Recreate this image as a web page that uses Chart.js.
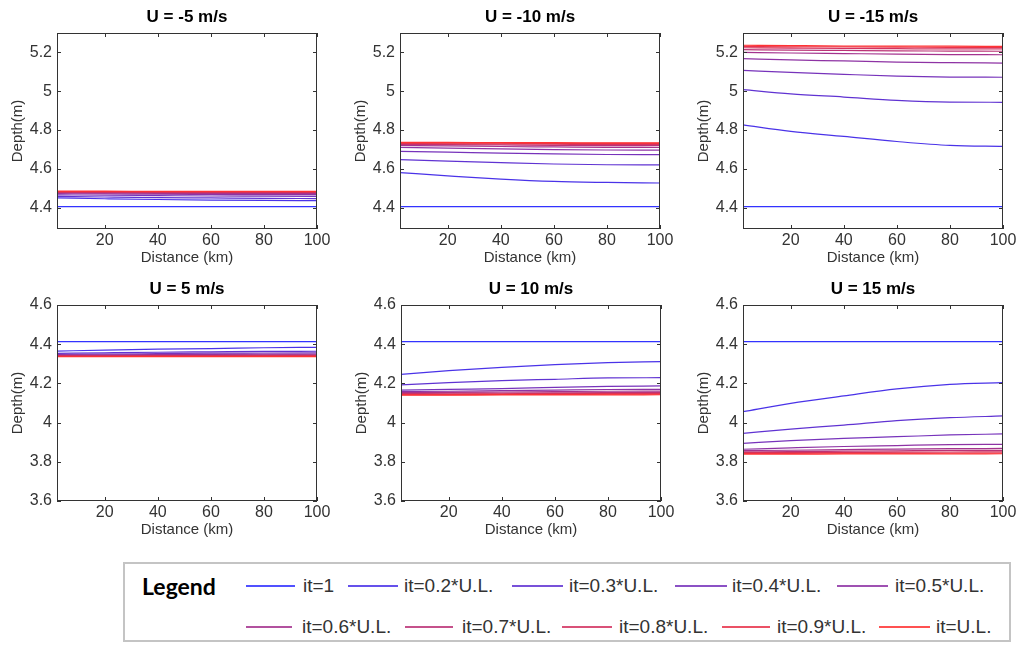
<!DOCTYPE html>
<html>
<head>
<meta charset="utf-8">
<script src="https://cdn.jsdelivr.net/npm/chart.js@4.4.1/dist/chart.umd.min.js"></script>
<style>
  body { margin:0; background:#fff; width:1020px; height:646px; position:relative; overflow:hidden; font-family:"Liberation Sans", Arial, sans-serif; }
  .panel { position:absolute; }
  #legendBox { position:absolute; left:123px; top:562px; width:888px; height:80px; border:2px solid #c4c4c4; box-sizing:border-box; }
  .lg-title { position:absolute; left:142px; top:572px; font:bold 23px Lato, "Open Sans", sans-serif; color:#000; }
  .lg-line { position:absolute; height:2px; }
  .lg-text { position:absolute; font-size:19px; color:#333; line-height:20px; }
</style>
</head>
<body>
<canvas id="c1" class="panel"></canvas>
<canvas id="c2" class="panel"></canvas>
<canvas id="c3" class="panel"></canvas>
<canvas id="c4" class="panel"></canvas>
<canvas id="c5" class="panel"></canvas>
<canvas id="c6" class="panel"></canvas>
<div id="legendBox"></div>
<div class="lg-title">Legend</div>
<div id="legend"></div>
<script>
// x positions along the channel (km)
const distKm = [2, 20, 40, 60, 80, 100];
const xTicks = [20, 40, 60, 80, 100];
const yTicksNeg = [4.4, 4.6, 4.8, 5, 5.2];
const yTicksPos = [3.6, 3.8, 4, 4.2, 4.4, 4.6];

const seriesNames = ['it=1', 'it=0.2*U.L.', 'it=0.3*U.L.', 'it=0.4*U.L.', 'it=0.5*U.L.',
                     'it=0.6*U.L.', 'it=0.7*U.L.', 'it=0.8*U.L.', 'it=0.9*U.L.', 'it=U.L.'];

// depth (m) per iteration, one row per series
const depthUm5 = [
  [4.405, 4.405, 4.405, 4.405, 4.405, 4.405],
  [4.450, 4.446, 4.442, 4.439, 4.437, 4.436],
  [4.458, 4.455, 4.452, 4.450, 4.448, 4.447],
  [4.466, 4.464, 4.462, 4.460, 4.459, 4.458],
  [4.472, 4.471, 4.469, 4.468, 4.467, 4.467],
  [4.476, 4.475, 4.474, 4.474, 4.473, 4.473],
  [4.479, 4.478, 4.478, 4.477, 4.477, 4.477],
  [4.481, 4.481, 4.480, 4.480, 4.480, 4.480],
  [4.483, 4.483, 4.482, 4.482, 4.482, 4.482],
  [4.485, 4.485, 4.484, 4.484, 4.484, 4.484]
];
const depthUm10 = [
  [4.405, 4.405, 4.405, 4.405, 4.405, 4.405],
  [4.581, 4.564, 4.547, 4.535, 4.530, 4.527],
  [4.648, 4.640, 4.632, 4.625, 4.621, 4.620],
  [4.690, 4.686, 4.681, 4.677, 4.674, 4.673],
  [4.710, 4.707, 4.703, 4.699, 4.697, 4.696],
  [4.720, 4.718, 4.715, 4.713, 4.711, 4.710],
  [4.726, 4.725, 4.723, 4.721, 4.720, 4.720],
  [4.730, 4.729, 4.728, 4.727, 4.726, 4.726],
  [4.733, 4.733, 4.732, 4.731, 4.731, 4.731],
  [4.736, 4.736, 4.735, 4.735, 4.734, 4.734]
];
const depthUm15 = [
  [4.405, 4.405, 4.405, 4.405, 4.405, 4.405],
  [4.827, 4.793, 4.767, 4.741, 4.721, 4.716],
  [5.008, 4.986, 4.970, 4.953, 4.944, 4.943],
  [5.107, 5.097, 5.087, 5.078, 5.073, 5.072],
  [5.168, 5.161, 5.156, 5.150, 5.147, 5.145],
  [5.200, 5.197, 5.194, 5.191, 5.189, 5.188],
  [5.214, 5.212, 5.210, 5.208, 5.207, 5.206],
  [5.224, 5.222, 5.220, 5.219, 5.218, 5.218],
  [5.231, 5.229, 5.228, 5.227, 5.226, 5.226],
  [5.237, 5.235, 5.233, 5.232, 5.232, 5.231]
];
const depthU5 = [
  [4.413, 4.413, 4.413, 4.413, 4.413, 4.413],
  [4.365, 4.370, 4.375, 4.377, 4.382, 4.384],
  [4.353, 4.356, 4.359, 4.361, 4.363, 4.364],
  [4.348, 4.350, 4.352, 4.354, 4.355, 4.356],
  [4.345, 4.346, 4.347, 4.348, 4.349, 4.350],
  [4.343, 4.343, 4.344, 4.345, 4.345, 4.346],
  [4.341, 4.341, 4.342, 4.342, 4.343, 4.343],
  [4.339, 4.339, 4.340, 4.340, 4.340, 4.341],
  [4.338, 4.338, 4.338, 4.338, 4.339, 4.339],
  [4.336, 4.336, 4.337, 4.337, 4.337, 4.337]
];
const depthU10 = [
  [4.413, 4.413, 4.413, 4.413, 4.413, 4.413],
  [4.246, 4.265, 4.282, 4.296, 4.306, 4.311],
  [4.192, 4.204, 4.214, 4.221, 4.228, 4.229],
  [4.166, 4.170, 4.173, 4.180, 4.185, 4.187],
  [4.158, 4.160, 4.163, 4.166, 4.169, 4.170],
  [4.153, 4.154, 4.156, 4.158, 4.160, 4.161],
  [4.149, 4.150, 4.151, 4.152, 4.153, 4.154],
  [4.146, 4.146, 4.147, 4.148, 4.148, 4.149],
  [4.143, 4.143, 4.144, 4.144, 4.145, 4.145],
  [4.140, 4.140, 4.141, 4.141, 4.141, 4.142]
];
const depthU15 = [
  [4.413, 4.413, 4.413, 4.413, 4.413, 4.413],
  [4.056, 4.098, 4.136, 4.172, 4.195, 4.204],
  [3.945, 3.967, 3.987, 4.010, 4.025, 4.034],
  [3.894, 3.908, 3.920, 3.928, 3.937, 3.942],
  [3.864, 3.871, 3.878, 3.883, 3.888, 3.889],
  [3.857, 3.859, 3.862, 3.865, 3.867, 3.868],
  [3.851, 3.852, 3.854, 3.856, 3.858, 3.858],
  [3.847, 3.847, 3.848, 3.849, 3.850, 3.851],
  [3.843, 3.843, 3.844, 3.844, 3.845, 3.845],
  [3.839, 3.839, 3.840, 3.840, 3.840, 3.841]
];

// blue -> red ramp, softened a little towards white like the scanned figure
const colors = seriesNames.map((_, i) => {
    const t = i / (seriesNames.length - 1);
    const mix = c => Math.round(c * 0.8 + 255 * 0.2);
    return `rgb(${mix(255 * t)},${mix(0)},${mix(255 * (1 - t))})`;
});

// box + inward ticks + centred title, MATLAB style
const matlabAxes = {
    id: 'matlabAxes',
    afterDatasetsDraw(chart, args, opts) {
        const { ctx, chartArea: a, scales: { x, y } } = chart;
        ctx.save();
        ctx.strokeStyle = '#333';
        ctx.lineWidth = 1;
        ctx.strokeRect(a.left + 0.5, a.top + 0.5, a.width - 1, a.height - 1);
        ctx.beginPath();
        x.ticks.forEach(t => {
            const px = Math.round(x.getPixelForValue(t.value)) + 0.5;
            ctx.moveTo(px, a.bottom); ctx.lineTo(px, a.bottom - 4);
            ctx.moveTo(px, a.top); ctx.lineTo(px, a.top + 4);
        });
        y.ticks.forEach(t => {
            const py = Math.round(y.getPixelForValue(t.value)) + 0.5;
            ctx.moveTo(a.left, py); ctx.lineTo(a.left + 4, py);
            ctx.moveTo(a.right, py); ctx.lineTo(a.right - 4, py);
        });
        ctx.stroke();
        ctx.fillStyle = '#000';
        ctx.font = 'bold 17px "Liberation Sans", Arial, sans-serif';
        ctx.textAlign = 'center';
        ctx.textBaseline = 'middle';
        ctx.fillText(opts.title, (a.left + a.right) / 2, a.top - 16);
        ctx.restore();
    }
};

const PLOT_W = 260, PLOT_H = 196, Y_AXIS_W = 55, X_AXIS_H = 45, TOP_PAD = 33, RIGHT_PAD = 16;

function makePanel(id, plotLeft, plotTop, title, rows, yMin, yMax, yTicks) {
    const cv = document.getElementById(id);
    const w = Y_AXIS_W + PLOT_W + RIGHT_PAD, h = TOP_PAD + PLOT_H + X_AXIS_H;
    cv.style.left = (plotLeft - Y_AXIS_W) + 'px';
    cv.style.top = (plotTop - TOP_PAD) + 'px';
    cv.style.width = w + 'px';
    cv.style.height = h + 'px';
    cv.width = w; cv.height = h;

    const tickFont = { family: '"Liberation Sans", Arial, sans-serif', size: 16 };
    const titleFont = { family: '"Liberation Sans", Arial, sans-serif', size: 15 };

    new Chart(cv, {
        type: 'line',
        data: {
            labels: distKm,
            datasets: rows.map((r, i) => ({
                label: seriesNames[i],
                data: r,
                borderColor: colors[i],
                borderWidth: 1.2,
                pointRadius: 0,
                cubicInterpolationMode: 'monotone',
                fill: false,
                order: rows.length - 1 - i,
            })),
        },
        options: {
            responsive: false,
            animation: false,
            events: [],
            layout: { padding: { top: TOP_PAD, right: RIGHT_PAD, left: 0, bottom: 0 } },
            plugins: { legend: { display: false }, tooltip: { enabled: false }, matlabAxes: { title } },
            scales: {
                x: {
                    type: 'linear', min: 2, max: 100,
                    afterBuildTicks: s => { s.ticks = xTicks.map(v => ({ value: v })); },
                    afterFit: s => { s.height = X_AXIS_H; },
                    grid: { display: false, drawTicks: false }, border: { display: false },
                    ticks: { font: tickFont, color: '#333', padding: 2, maxRotation: 0, callback: v => String(v) },
                    title: { display: true, text: 'Distance (km)', font: titleFont, color: '#333', padding: { top: 0, bottom: 7 } },
                },
                y: {
                    type: 'linear', min: yMin, max: yMax,
                    afterBuildTicks: s => { s.ticks = yTicks.map(v => ({ value: v })); },
                    afterFit: s => { s.width = Y_AXIS_W; },
                    grid: { display: false, drawTicks: false }, border: { display: false },
                    ticks: { font: tickFont, color: '#333', padding: 5, callback: v => String(Math.round(v * 10) / 10) },
                    title: { display: true, text: 'Depth(m)', font: titleFont, color: '#333', padding: { top: 7, bottom: 0 } },
                },
            },
        },
        plugins: [matlabAxes],
    });
}

makePanel('c1', 57, 33, 'U = -5 m/s', depthUm5, 4.29, 5.3, yTicksNeg);
makePanel('c2', 400, 33, 'U = -10 m/s', depthUm10, 4.29, 5.3, yTicksNeg);
makePanel('c3', 743, 33, 'U = -15 m/s', depthUm15, 4.29, 5.3, yTicksNeg);
makePanel('c4', 57, 305, 'U = 5 m/s', depthU5, 3.6, 4.6, yTicksPos);
makePanel('c5', 401, 305, 'U = 10 m/s', depthU10, 3.6, 4.6, yTicksPos);
makePanel('c6', 743, 305, 'U = 15 m/s', depthU15, 3.6, 4.6, yTicksPos);

// legend entries laid out in two rows: [lineStart, lineEnd, textStart]
const legendRow1 = [[246, 295, 303], [348, 398, 404], [512, 563, 569], [675, 727, 732], [837, 888, 895]];
const legendRow2 = [[246, 292, 302], [405, 453, 462], [562, 612, 619], [722, 770, 777], [879, 930, 936]];
const lg = document.getElementById('legend');
[[legendRow1, 586], [legendRow2, 627]].forEach(([row, yc], r) => {
    row.forEach(([x0, x1, tx], k) => {
        const i = r * 5 + k;
        lg.innerHTML += `<div class="lg-line" style="left:${x0}px;top:${yc - 1}px;width:${x1 - x0}px;background:${colors[i]};opacity:0.85"></div>` +
            `<div class="lg-text" style="left:${tx}px;top:${yc - 10}px">${seriesNames[i]}</div>`;
    });
});
</script>
</body>
</html>
